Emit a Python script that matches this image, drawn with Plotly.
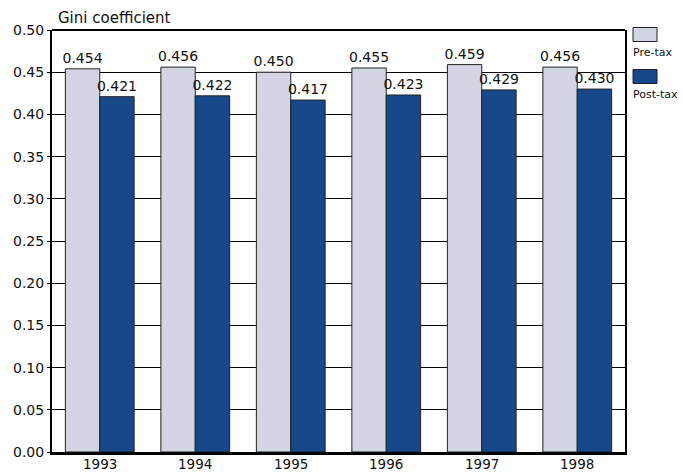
import plotly.graph_objects as go

# Gini coefficient of household income, before and after taxes
years = ["1993", "1994", "1995", "1996", "1997", "1998"]
pre_tax = [0.454, 0.456, 0.450, 0.455, 0.459, 0.456]
post_tax = [0.421, 0.422, 0.417, 0.423, 0.429, 0.430]
y_ticks = [0.00, 0.05, 0.10, 0.15, 0.20, 0.25, 0.30, 0.35, 0.40, 0.45, 0.50]

PRE_COLOR = "#d3d4e4"
POST_COLOR = "#17498a"
FONT = "DejaVu Sans"

W, H = 683, 472
L, R, T, B = 52, 58, 30, 20
plot_w = W - L - R
plot_h = H - T - B


def px_x(x):
    return (x - L) / plot_w


def px_y(y):
    return (H - B - y) / plot_h


fig = go.Figure()
for name, vals, color in [("Pre-tax", pre_tax, PRE_COLOR), ("Post-tax", post_tax, POST_COLOR)]:
    fig.add_trace(go.Bar(
        name=name, x=years, y=vals,
        marker=dict(color=color, line=dict(color="#222222", width=1)),
        text=[f"{v:.3f}" for v in vals],
        textposition="outside",
        constraintext="none",
        textfont=dict(family=FONT, size=14, color="#111111"),
        cliponaxis=False,
        showlegend=False,
    ))

# Year labels just under the thick baseline
for yr in years:
    fig.add_annotation(xref="x", yref="paper", x=yr, y=0, yshift=-2,
                       text=yr, showarrow=False, xanchor="center", yanchor="top",
                       font=dict(family=FONT, size=13.5, color="#111111"))

# Legend: swatch with the label underneath
legend_items = [("Pre-tax", PRE_COLOR, 27.5), ("Post-tax", POST_COLOR, 69.5)]
for label, color, top in legend_items:
    fig.add_shape(type="rect", xref="paper", yref="paper",
                  x0=px_x(633), x1=px_x(657), y0=px_y(top + 14), y1=px_y(top),
                  fillcolor=color, line=dict(color="#222222", width=1))
    fig.add_annotation(xref="paper", yref="paper", x=px_x(631), y=px_y(top + 25),
                       text=label, showarrow=False, xanchor="left", yanchor="middle",
                       font=dict(family=FONT, size=11, color="#111111"))

# Top border of the plot frame
fig.add_shape(type="line", xref="paper", yref="paper", x0=0, x1=1, y0=1, y1=1,
              line=dict(color="black", width=2))

fig.add_annotation(xref="paper", yref="paper", x=px_x(56), y=1, yshift=1,
                   text="Gini coefficient", showarrow=False,
                   xanchor="left", yanchor="bottom",
                   font=dict(family=FONT, size=15, color="#111111"))

fig.update_layout(
    template="none",
    width=W, height=H,
    margin=dict(l=L, r=R, t=T, b=B, pad=0),
    paper_bgcolor="white", plot_bgcolor="white",
    barmode="group", bargap=0.28, bargroupgap=0,
    font=dict(family=FONT, size=14, color="#111111"),
    xaxis=dict(showline=True, linecolor="black", linewidth=3, automargin=False,
               ticks="", showgrid=False, showticklabels=False),
    yaxis=dict(range=[0, 0.5], tickvals=y_ticks, automargin=False,
               ticktext=[f"{v:.2f}" for v in y_ticks],
               showgrid=True, gridcolor="black", gridwidth=1,
               showline=True, linecolor="black", linewidth=2, mirror=True,
               ticks="outside", ticklen=3, tickcolor="black", tickwidth=1,
               zeroline=False, tickfont=dict(size=14)),
)

fig.write_html("out.html")
